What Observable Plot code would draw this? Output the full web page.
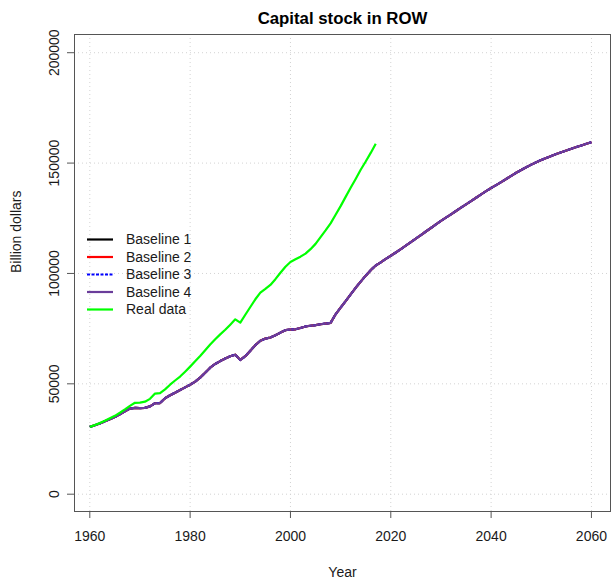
<!DOCTYPE html>
<html>
<head>
<meta charset="utf-8">
<script src="https://cdn.jsdelivr.net/npm/d3@7"></script>
<script src="https://cdn.jsdelivr.net/npm/@observablehq/plot@0.6"></script>
<style>
  html, body { margin: 0; padding: 0; background: #fff; }
  svg { display: block; }
</style>
</head>
<body>
<div id="chart"></div>
<script>
// ---------- data ----------
const realYears = d3.range(1960, 2018);
const realData = [
  30500, 31300, 32200, 33300, 34400, 35500, 36900, 38400, 40000, 41400,
  41500, 41900, 43200, 45600, 45800, 47500, 49600, 51500, 53300, 55500,
  57800, 60200, 62600, 65200, 67800, 70200, 72400, 74500, 76800, 79200,
  77700, 81300, 84800, 88300, 91300, 93000, 94800, 97400, 100300, 103000,
  105200, 106400, 107600, 109000, 111000, 113400, 116500, 119500, 122700, 126600,
  130500, 134700, 138800, 142800, 147000, 150700, 154600, 158800
];

const baseYears = d3.range(1960, 2061);
const baselineValues = [
  30500, 31200, 32000, 33000, 34000, 35000, 36200, 37500, 38800, 39100,
  39000, 39100, 39800, 41200, 41300, 43500, 44800, 46000, 47200, 48400,
  49600, 51000, 52800, 55000, 57300, 59000, 60300, 61500, 62500, 63200,
  60800, 62500, 65000, 67500, 69500, 70500, 71000, 72000, 73200, 74300,
  74600, 74700, 75300, 76000, 76300, 76600, 77000, 77300, 77600, 81500,
  84500, 87500, 90500, 93500, 96300, 99000, 101500, 103600, 105000, 106600,
  108000, 109500, 111000, 112600, 114200, 115800, 117400, 119000, 120600, 122200,
  123800, 125300, 126800, 128300, 129800, 131300, 132800, 134300, 135800, 137300,
  138700, 140000, 141400, 142800, 144200, 145600, 146900, 148150, 149300, 150400,
  151400, 152350, 153250, 154100, 154900, 155700, 156500, 157250, 158000, 158750,
  159450
];
// The four baselines coincide in the picture
const baseline1 = baselineValues;
const baseline2 = baselineValues;
const baseline3 = baselineValues;
const baseline4 = baselineValues;

const seriesNames = ["Baseline 1", "Baseline 2", "Baseline 3", "Baseline 4", "Real data"];
const seriesColors = ["#000000", "#ff0000", "#0000ff", "#6a3d9a", "#00ff00"];
const seriesDash = [null, null, "3,1.5", null, null];

const xTicks = [1960, 1980, 2000, 2020, 2040, 2060];
const yTicks = [0, 50000, 100000, 150000, 200000];

// ---------- tables ----------
const toRows = (years, values) => years.map((year, i) => ({year, value: values[i]}));
const seriesRows = [
  toRows(baseYears, baseline1),
  toRows(baseYears, baseline2),
  toRows(baseYears, baseline3),
  toRows(baseYears, baseline4),
  toRows(realYears, realData)
];

const lineMarks = seriesRows.map((rows, i) =>
  Plot.line(rows, {
    x: "year", y: "value",
    stroke: seriesColors[i],
    strokeWidth: 2.2,
    strokeDasharray: seriesDash[i] || undefined,
    strokeLinejoin: "round",
    strokeLinecap: "butt"
  })
);

const textColor = "#1a1a1a";
const axisColor = "#555";

const chart = Plot.plot({
  width: 611,
  height: 586,
  marginLeft: 74,
  marginRight: 1,
  marginTop: 34,
  marginBottom: 75,
  style: {fontFamily: "'Liberation Sans', Arial, sans-serif", fontSize: "14px", background: "#fff", color: textColor},
  x: {domain: [1956.95, 2063.8]},
  y: {domain: [-7840, 208250]},
  marks: [
    Plot.ruleX(xTicks, {stroke: "#d3d3d3", strokeDasharray: "1,3", strokeWidth: 1}),
    Plot.ruleY(yTicks, {stroke: "#d3d3d3", strokeDasharray: "1,3", strokeWidth: 1}),
    ...lineMarks,
    Plot.frame({stroke: axisColor, strokeWidth: 1}),
    Plot.axisX({ticks: xTicks, tickSize: 7, tickPadding: 13, tickFormat: d => String(d),
      fontSize: 14, stroke: axisColor, fill: textColor, label: null}),
    Plot.axisY({ticks: yTicks, tickSize: 7, tickPadding: 9, tickRotate: -90, tickFormat: d => String(d),
      fontSize: 14, stroke: axisColor, fill: textColor, label: null}),
    Plot.text(["Capital stock in ROW"], {text: d => d, frameAnchor: "top", dy: -22,
      fontWeight: "bold", fontSize: 16.8, fill: "#000"}),
    Plot.text(["Year"], {text: d => d, frameAnchor: "bottom", dy: 65, fontSize: 14, fill: textColor}),
    Plot.text(["Billion dollars"], {text: d => d, frameAnchor: "left", dx: -58, rotate: -90,
      fontSize: 14, fill: textColor})
  ]
});

// ---------- legend (inside plot, top-left, no box) ----------
const svg = d3.select(chart);
const lg = svg.append("g")
  .attr("font-family", "'Liberation Sans', Arial, sans-serif")
  .attr("font-size", 14)
  .attr("text-anchor", "start");
seriesNames.forEach((name, i) => {
  const y = 239.5 + i * 17.5;
  lg.append("line")
    .attr("x1", 87).attr("x2", 113).attr("y1", y).attr("y2", y)
    .attr("stroke", seriesColors[i]).attr("stroke-width", 2.2)
    .attr("stroke-dasharray", seriesDash[i]);
  lg.append("text")
    .attr("x", 126).attr("y", y).attr("dy", "0.35em")
    .attr("text-anchor", "start")
    .attr("fill", textColor).text(name);
});

document.getElementById("chart").appendChild(chart);
</script>
</body>
</html>
